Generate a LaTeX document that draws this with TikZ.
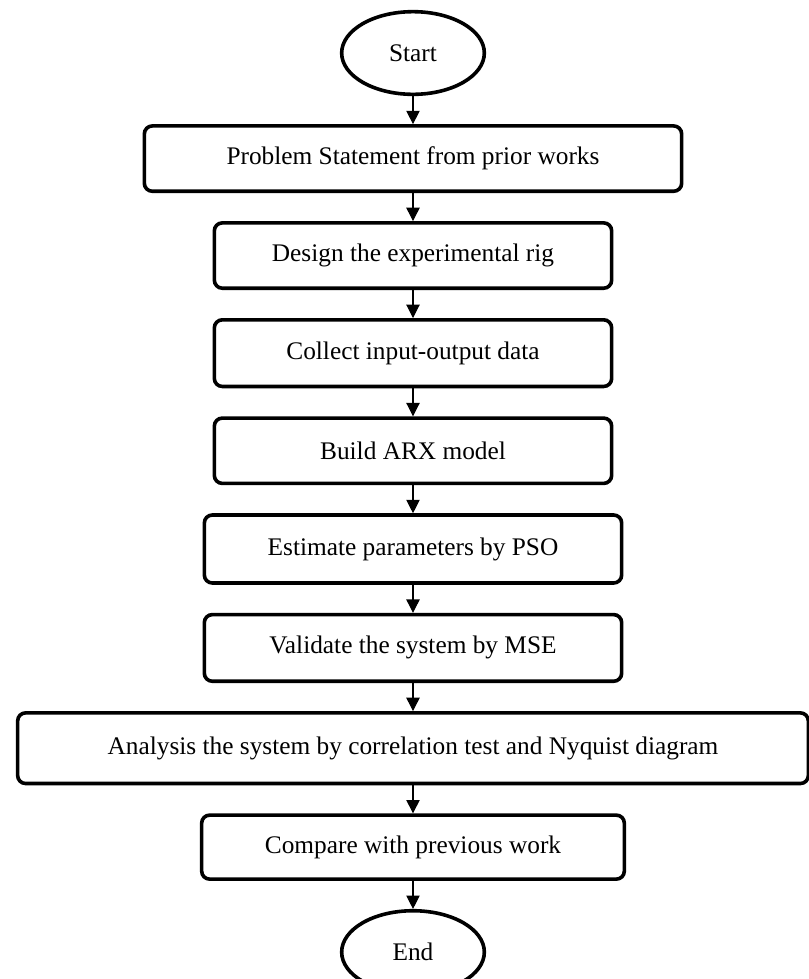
\documentclass[tikz,border=0pt]{standalone}
\usepackage{fontspec}
\setmainfont{Liberation Serif}
\usepackage{tikz}
\usetikzlibrary{shapes.geometric, arrows.meta}
\usetikzlibrary{positioning}
\tikzstyle{terminal} = [ellipse, draw=black, line width=2.7pt, minimum width=107pt, minimum height=62pt, inner sep=0pt, font=\fontsize{19}{23}\selectfont]
\tikzstyle{process} = [rectangle, rounded corners=6pt, draw=black, line width=2.7pt, minimum height=49pt, inner sep=0pt, text centered, font=\fontsize{19}{23}\selectfont]
\tikzstyle{arrow} = [line width=0.8pt, -{Triangle[width=10pt,length=10pt]}]

\begin{document}
\begin{tikzpicture}[x=0.75pt, y=-0.75pt, node distance=21pt]
                    \useasboundingbox (0,0) rectangle (808,979);
                    \node (start) [terminal] at (413,53) {Start};
                    \node (problem) [process, below = of start, minimum width=403pt] {Problem Statement from prior works};
                    \node (design) [process, below = of problem, minimum width=298pt] {Design the experimental rig};
                    \node (collect) [process, below = of design, minimum width=298pt, minimum height=50pt] {Collect input-output data};
                    \node (arx) [process, below = of collect, minimum width=298pt] {Build ARX model};
                    \node (pso) [process, below = of arx, minimum width=313pt, minimum height=51pt] {Estimate parameters by PSO};
                    \node (mse) [process, below = of pso, minimum width=313pt, minimum height=50pt] {Validate the system by MSE};
                    \node (analysis) [process, below = of mse, minimum width=593pt, minimum height=53pt] {Analysis the system by correlation test and Nyquist diagram};
                    \node (compare) [process, below = of analysis, minimum width=317pt, minimum height=48pt] {Compare with previous work};
                    \node (end) [terminal, below = of compare] {End};
                    \draw [arrow] (start) -- (problem);
                    \draw [arrow] (problem) -- (design);
                    \draw [arrow] (design) -- (collect);
                    \draw [arrow] (collect) -- (arx);
                    \draw [arrow] (arx) -- (pso);
                    \draw [arrow] (pso) -- (mse);
                    \draw [arrow] (mse) -- (analysis);
                    \draw [arrow] (analysis) -- (compare);
                    \draw [arrow] (compare) -- (end);
                \end{tikzpicture}
\end{document}
